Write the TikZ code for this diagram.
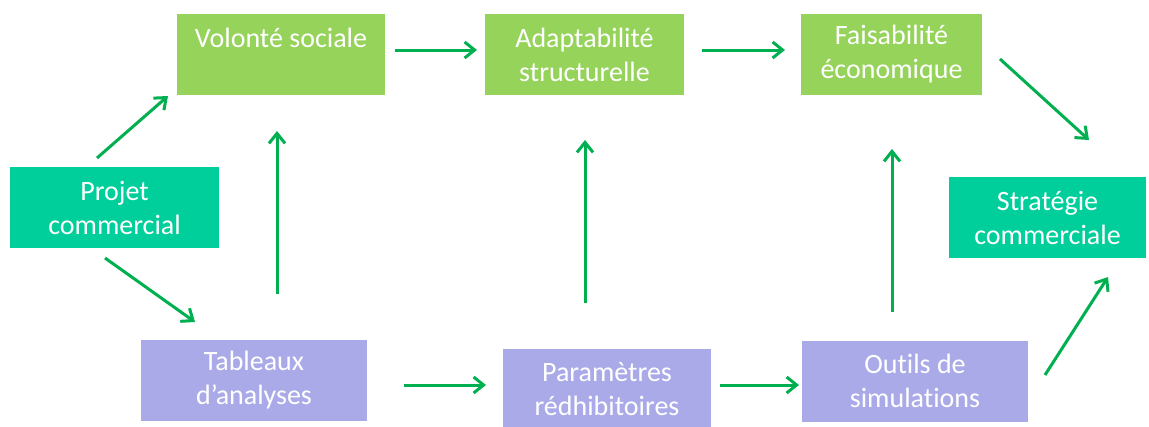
\documentclass[tikz,border=0pt]{standalone}
\usepackage{fontspec}
\setmainfont{Carlito}[Ligatures=NoCommon]
\usetikzlibrary{arrows.meta}
\definecolor{boxgreen}{HTML}{96D35A}
\definecolor{boxteal}{HTML}{00CF9B}
\definecolor{boxlav}{HTML}{AAAAE8}
\definecolor{arrgreen}{HTML}{00B050}
\tikzset{
  box/.style={rectangle, inner sep=0pt, text=white, align=center,
    font=\fontsize{28}{34}\selectfont, minimum height=81pt},
  gbox/.style={box, fill=boxgreen},
  tbox/.style={box, fill=boxteal},
  lbox/.style={box, fill=boxlav},
  conn/.style={draw=arrgreen, line width=3pt,
    -{Straight Barb[length=10pt,width=16pt,line width=3pt]}}
}
\begin{document}
\begin{tikzpicture}[x=1pt,y=-1pt]
\useasboundingbox (0,0) rectangle (1149,426);
% boxes
\node[gbox, minimum width=208pt] (vol) at (281,54.5) {Volonté sociale\\\mbox{}};
\node[gbox, minimum width=199pt] (ada) at (584.5,54.5) {Adaptabilité\\structurelle};
\node[gbox, minimum width=181pt] (fai) at (891.5,54.5) {Faisabilité\\économique};
\node[tbox, minimum width=209pt] (pro) at (114.5,207.5) {Projet\\commercial};
\node[tbox, minimum width=197pt] (str) at (1047.5,217.5) {Stratégie\\commerciale};
\node[lbox, minimum width=226pt] (tab) at (254,380.5) {Tableaux\\d’analyses};
\node[lbox, minimum width=208pt] (par) at (607,389.5) {Paramètres\\rédhibitoires};
\node[lbox, minimum width=226pt] (out) at (915,381) {Outils de\\simulations};
% connector end points
\coordinate (a1s) at (97,158);   \coordinate (a1e) at (168,96);
\coordinate (a2s) at (105,258);  \coordinate (a2e) at (195,322);
\coordinate (a3s) at (277,294);  \coordinate (a3e) at (277,131);
\coordinate (a4s) at (395,50);   \coordinate (a4e) at (477,50);
\coordinate (a5s) at (702,50);   \coordinate (a5e) at (785,50);
\coordinate (a6s) at (1000,59);  \coordinate (a6e) at (1089,140);
\coordinate (a7s) at (585,303);  \coordinate (a7e) at (585,140);
\coordinate (a8s) at (404,385);  \coordinate (a8e) at (486,385);
\coordinate (a9s) at (720,385);  \coordinate (a9e) at (799,385);
\coordinate (a10s) at (892,312); \coordinate (a10e) at (892,149);
\coordinate (a11s) at (1045,375);\coordinate (a11e) at (1108,277);
% connectors
\draw[conn] (a1s) -- (a1e);
\draw[conn] (a2s) -- (a2e);
\draw[conn] (a3s) -- (a3e);
\draw[conn] (a4s) -- (a4e);
\draw[conn] (a5s) -- (a5e);
\draw[conn] (a6s) -- (a6e);
\draw[conn] (a7s) -- (a7e);
\draw[conn] (a8s) -- (a8e);
\draw[conn] (a9s) -- (a9e);
\draw[conn] (a10s) -- (a10e);
\draw[conn] (a11s) -- (a11e);
\end{tikzpicture}
\end{document}
